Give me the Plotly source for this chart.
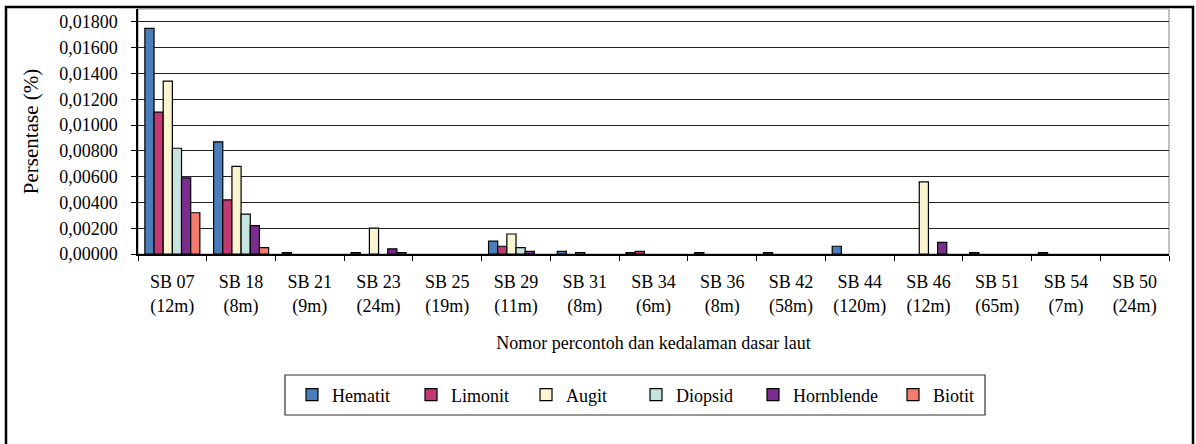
import plotly.graph_objects as go

categories = ["SB 07<br>(12m)", "SB 18<br>(8m)", "SB 21<br>(9m)", "SB 23<br>(24m)", "SB 25<br>(19m)",
              "SB 29<br>(11m)", "SB 31<br>(8m)", "SB 34<br>(6m)", "SB 36<br>(8m)", "SB 42<br>(58m)",
              "SB 44<br>(120m)", "SB 46<br>(12m)", "SB 51<br>(65m)", "SB 54<br>(7m)", "SB 50<br>(24m)"]

# None = no bar drawn for that sample
hematit    = [0.0175, 0.0087, 0.0001, 0.0001, None, 0.0010, 0.0002, 0.0001, 0.0001, 0.0001, 0.0006, None, 0.0001, 0.0001, None]
limonit    = [0.0110, 0.0042, None, None, None, 0.0006, None, 0.0002, None, None, None, None, None, None, None]
augit      = [0.0134, 0.0068, None, 0.0020, None, 0.00155, 0.0001, None, None, None, None, 0.0056, None, None, None]
diopsid    = [0.0082, 0.0031, None, None, None, 0.0005, None, None, None, None, None, None, None, None, None]
hornblende = [0.0059, 0.0022, None, 0.0004, None, 0.0002, None, None, None, None, None, 0.0009, None, None, None]
biotit     = [0.0032, 0.0005, None, 0.0001, None, None, None, None, None, None, None, None, None, None, None]

series = [
    ("Hematit", hematit, "#4A7EBB"),
    ("Limonit", limonit, "#BE3A70"),
    ("Augit", augit, "#FAF5D0"),
    ("Diopsid", diopsid, "#C5E3DF"),
    ("Hornblende", hornblende, "#7B2C8E"),
    ("Biotit", biotit, "#F47C6E"),
]

y_ticks = [i * 0.002 for i in range(10)]

FONT = "Liberation Serif"

W, H = 1196, 444
L, R, T, B = 138, 27, 9, 190
pw, ph = W - L - R, H - T - B

def px_x(px):
    return (px - L) / pw

def px_y(py):
    return (H - B - py) / ph

# legend symbol left edges (px) as in the reference layout
legend_sym_x = [308, 427, 542, 652, 769, 909]
legend_cy = 395

fig = go.Figure()
legend_layouts = {}
for i, (name, vals, color) in enumerate(series):
    key = "legend" if i == 0 else f"legend{i + 1}"
    fig.add_trace(go.Bar(
        x=categories, y=vals, name=name, legend=key,
        marker=dict(color=color, line=dict(color="#000000", width=1.2)),
    ))
    legend_layouts[key] = dict(
        orientation="h", x=px_x(legend_sym_x[i] - 16), xanchor="left",
        y=px_y(legend_cy), yanchor="middle",
        borderwidth=0, bgcolor="rgba(0,0,0,0)",
        font=dict(family=FONT, size=18, color="black"),
        itemwidth=30,
    )

fig.update_layout(
    width=W, height=H,
    margin=dict(l=L, r=R, t=T, b=B),
    paper_bgcolor="white", plot_bgcolor="white",
    barmode="group", bargap=0.2, bargroupgap=0,
    separators=", ",
    font=dict(family=FONT, size=18, color="black"),
    showlegend=True,
    xaxis=dict(
        showline=True, linecolor="black", linewidth=1.5,
        ticks="outside", ticklen=5, tickcolor="black", tickson="boundaries",
        ticklabelstandoff=11,
        showgrid=False, mirror=False,
        title=dict(text="Nomor percontoh dan kedalaman dasar laut", font=dict(family=FONT, size=18), standoff=21),
        tickfont=dict(family=FONT, size=18),
    ),
    yaxis=dict(
        range=[0, 0.019], tickvals=y_ticks, tickformat=".5f",
        showline=True, linecolor="black", linewidth=1.5,
        ticks="outside", ticklen=5, tickcolor="black",
        ticklabelstandoff=10,
        showgrid=True, gridcolor="#222222", gridwidth=1.2,
        zeroline=False,
        title=dict(text="Persentase (%)", font=dict(family=FONT, size=21), standoff=15),
        tickfont=dict(family=FONT, size=18),
    ),
    shapes=[
        dict(type="rect", xref="paper", yref="paper", x0=0, x1=1, y0=0, y1=1,
             line=dict(color="#999999", width=1.2), layer="below"),
        dict(type="rect", xref="paper", yref="paper",
             x0=px_x(285), x1=px_x(985), y0=px_y(415), y1=px_y(375),
             line=dict(color="#333333", width=1.2), fillcolor="rgba(0,0,0,0)", layer="below"),
        dict(type="rect", xref="paper", yref="paper",
             x0=px_x(6), x1=px_x(1193), y0=px_y(460), y1=px_y(7),
             line=dict(color="black", width=2.5), layer="above"),
    ],
)
fig.update_layout(**legend_layouts)

fig.write_html("out.html", config={"displayModeBar": False},
               post_script="document.body.style.margin='0px';document.body.style.overflow='hidden';")
